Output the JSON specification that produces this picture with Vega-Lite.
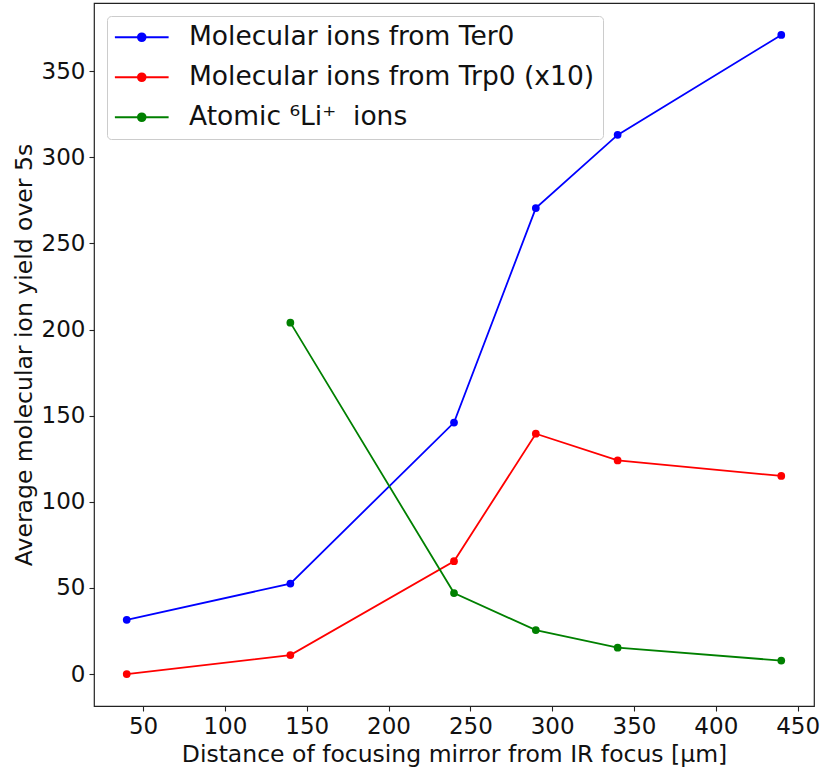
{
  "$schema": "https://vega.github.io/schema/vega-lite/v6.json",
  "autosize": {"type": "none"},
  "padding": {"left": 94, "top": 3, "right": 8, "bottom": 66},
  "width": 720,
  "height": 703,
  "background": "white",
  "config": {
    "font": "DejaVu Sans",
    "view": {"stroke": "#222222", "strokeWidth": 1.2},
    "axis": {
      "grid": false,
      "domain": false,
      "tickColor": "#222222",
      "tickSize": 5,
      "tickWidth": 1.1,
      "labelFontSize": 23,
      "labelColor": "#111111",
      "labelFont": "DejaVu Sans",
      "titleFont": "DejaVu Sans",
      "titleFontSize": 23.5,
      "titleFontWeight": "normal",
      "titleColor": "#111111",
      "labelPadding": 4
    }
  },
  "data": {
    "values": [
      {"series": "Molecular ions from Ter0", "distance": 40, "yield": 31.5},
      {"series": "Molecular ions from Ter0", "distance": 140, "yield": 52.5},
      {"series": "Molecular ions from Ter0", "distance": 240, "yield": 146},
      {"series": "Molecular ions from Ter0", "distance": 290, "yield": 270.5},
      {"series": "Molecular ions from Ter0", "distance": 340, "yield": 313},
      {"series": "Molecular ions from Ter0", "distance": 440, "yield": 371},
      {"series": "Molecular ions from Trp0 (x10)", "distance": 40, "yield": 0},
      {"series": "Molecular ions from Trp0 (x10)", "distance": 140, "yield": 11},
      {"series": "Molecular ions from Trp0 (x10)", "distance": 240, "yield": 65.5},
      {"series": "Molecular ions from Trp0 (x10)", "distance": 290, "yield": 139.5},
      {"series": "Molecular ions from Trp0 (x10)", "distance": 340, "yield": 124},
      {"series": "Molecular ions from Trp0 (x10)", "distance": 440, "yield": 115},
      {"series": "Atomic ⁶Li⁺\u00a0 ions", "distance": 140, "yield": 204},
      {"series": "Atomic ⁶Li⁺\u00a0 ions", "distance": 240, "yield": 47},
      {"series": "Atomic ⁶Li⁺\u00a0 ions", "distance": 290, "yield": 25.5},
      {"series": "Atomic ⁶Li⁺\u00a0 ions", "distance": 340, "yield": 15.3},
      {"series": "Atomic ⁶Li⁺\u00a0 ions", "distance": 440, "yield": 7.8}
    ]
  },
  "mark": {"type": "line", "strokeWidth": 1.8, "point": {"filled": true, "size": 60, "opacity": 1}},
  "encoding": {
    "x": {
      "field": "distance",
      "type": "quantitative",
      "scale": {"domain": [20, 460], "nice": false, "zero": false},
      "axis": {
        "values": [50, 100, 150, 200, 250, 300, 350, 400, 450],
        "title": "Distance of focusing mirror from IR focus [µm]",
        "titlePadding": 4
      }
    },
    "y": {
      "field": "yield",
      "type": "quantitative",
      "scale": {"domain": [-18.55, 389.55], "nice": false, "zero": false},
      "axis": {
        "values": [0, 50, 100, 150, 200, 250, 300, 350],
        "title": "Average molecular ion yield over 5s",
        "titlePadding": 5
      }
    },
    "color": {
      "field": "series",
      "type": "nominal",
      "sort": null,
      "scale": {
        "domain": ["Molecular ions from Ter0", "Molecular ions from Trp0 (x10)", "Atomic ⁶Li⁺\u00a0 ions"],
        "range": ["#0000ff", "#ff0000", "#008000"]
      },
      "legend": {
        "title": null,
        "orient": "top-left",
        "offset": 13,
        "padding": 8,
        "rowPadding": 13,
        "strokeColor": "#cccccc",
        "fillColor": "rgba(255,255,255,0.8)",
        "cornerRadius": 4,
        "labelFontSize": 26.5,
        "labelFont": "DejaVu Sans",
        "labelColor": "#111111",
        "labelLimit": 600,
        "symbolType": "M-3.8,0H3.8M0.55,0A0.55,0.55 0 1,1 -0.55,0A0.55,0.55 0 1,1 0.55,0Z",
        "symbolSize": 200,
        "symbolStrokeWidth": 1.8,
        "symbolOffset": 13.5,
        "labelOffset": 34,
        "symbolOpacity": 1,
        "encode": {
          "symbols": {
            "update": {
              "fill": {"scale": "color", "field": "value"},
              "stroke": {"scale": "color", "field": "value"}
            }
          }
        }
      }
    }
  }
}
